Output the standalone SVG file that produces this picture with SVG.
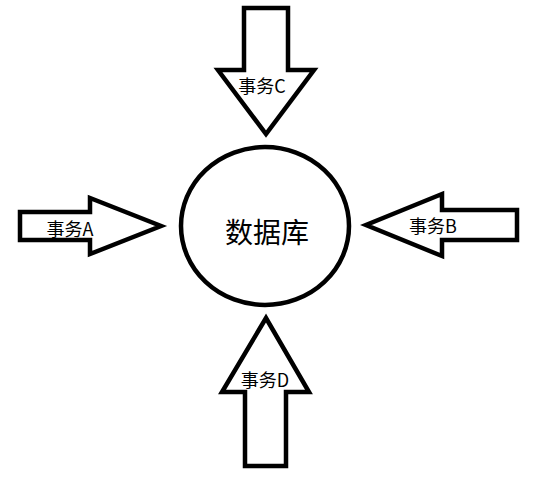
<svg xmlns="http://www.w3.org/2000/svg" width="537" height="483" viewBox="0 0 537 483">
<style>
.shape{fill:#fff;stroke:#000;stroke-width:4.5;stroke-linejoin:miter}
.lbl{font-family:"Microsoft YaHei","Noto Sans CJK SC","Liberation Sans",sans-serif;font-size:18px;fill:#000;text-anchor:middle}
.db{font-family:"Microsoft YaHei","Noto Sans CJK SC","Liberation Sans",sans-serif;font-size:28px;fill:#000;text-anchor:middle}
</style>
<rect width="537" height="483" fill="#fff"/>
<g id="connectors">
<g id="arrowC"><polygon class="shape" points="244,8 288,8 288,70 314,70 266,134 218,70 244,70"/><text class="lbl" x="262" y="93">事务C</text></g>
<g id="arrowA"><polygon class="shape" points="20,212 90,212 90,198 161,226 90,254 90,240 20,240"/><text class="lbl" x="70" y="236">事务A</text></g>
<g id="arrowB"><polygon class="shape" points="517,210 442,210 442,194 366,225 442,256 442,240 517,240"/><text class="lbl" x="433" y="233">事务B</text></g>
<g id="arrowD"><polygon class="shape" points="245,466 286,466 286,392 309,392 266,318 222,392 245,392"/><text class="lbl" x="265" y="387">事务D</text></g>
</g>
<g id="database"><ellipse class="shape" cx="265" cy="226" rx="84" ry="79"/><text class="db" x="267" y="243">数据库</text></g>
</svg>
